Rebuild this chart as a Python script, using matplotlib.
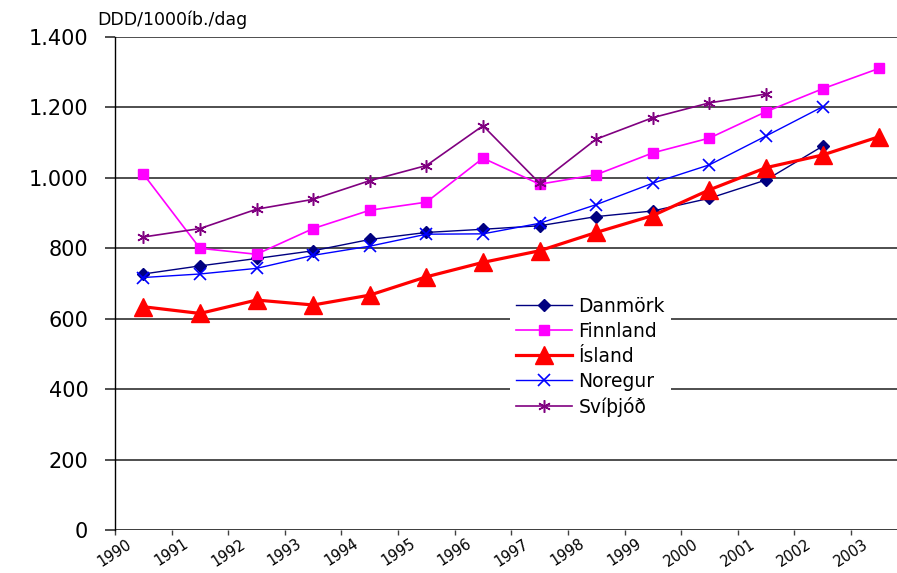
import matplotlib
matplotlib.use("Agg")
import matplotlib.pyplot as plt
from matplotlib.transforms import ScaledTranslation

plt.rcParams['font.family'] = ['DejaVu Sans']

years = ['1990', '1991', '1992', '1993', '1994', '1995', '1996',
         '1997', '1998', '1999', '2000', '2001', '2002', '2003']
danmork = [727, 750, 771, 793, 825, 845, 854, 864, 890, 906, 942, 994, 1090, None]
finnland = [1011, 800, 783, 856, 908, 931, 1056, 982, 1009, 1071, 1113, 1188, 1253, 1311]
island = [634, 615, 653, 639, 667, 719, 760, 793, 845, 893, 966, 1029, 1065, 1117]
noregur = [717, 727, 743, 780, 806, 840, 841, 871, 924, 985, 1037, 1119, 1202, None]
svithjod = [832, 856, 911, 939, 992, 1035, 1148, 985, 1110, 1171, 1213, 1238, None, None]
y_ticks = [0, 200, 400, 600, 800, 1000, 1200, 1400]
y_labels = ['0', '200', '400', '600', '800', '1.000', '1.200', '1.400']
y_unit = 'DDD/1000íb./dag'

W, H = 897, 573
fig = plt.figure(figsize=(W / 100, H / 100), dpi=100)
ax = fig.add_axes([115 / W, 43 / H, 792.6 / W, 493 / H])

def pts(vals):
    xs, ys = [], []
    for i, v in enumerate(vals):
        if v is not None:
            xs.append(i + 0.5)
            ys.append(v)
    return xs, ys

series = [
    ('Danmörk', danmork, dict(color='#000080', lw=1.0, marker='D', ms=6)),
    ('Finnland', finnland, dict(color='#FF00FF', lw=1.2, marker='s', ms=7)),
    ('Ísland', island, dict(color='#FF0000', lw=2.3, marker='^', ms=13)),
    ('Noregur', noregur, dict(color='#0000FF', lw=1.0, marker='x', ms=8, mew=1.2)),
    ('Svíþjóð', svithjod, dict(color='#800080', lw=1.2, marker=(6, 2, 0), ms=9, mew=1.1)),
]
for name, vals, st in series:
    xs, ys = pts(vals)
    ax.plot(xs, ys, label=name, clip_on=False, zorder=3, **st)

ax.set_xlim(0, len(years))
ax.set_ylim(0, 1400)
ax.set_yticks(y_ticks)
ax.set_yticklabels(y_labels, fontsize=15)
ax.set_xticks(range(len(years)))
ax.set_xticklabels(years, fontsize=10.5, rotation=33, ha='center', va='top')
for lab in ax.get_xticklabels():
    lab.set_transform(lab.get_transform() + ScaledTranslation(-8 / 100, 0, fig.dpi_scale_trans))

ax.grid(axis='y', color='#404040', lw=1.3, zorder=1)
for s in ['top', 'right', 'bottom']:
    ax.spines[s].set_visible(False)
ax.spines['left'].set_color('black')
ax.spines['left'].set_linewidth(1.0)
ax.tick_params(axis='y', length=7.2, width=1.3, color='#404040', pad=12)
ax.tick_params(axis='x', length=3.5, width=1.0, color='#404040', pad=1)
ax.axhline(0, color='#404040', lw=1.3, zorder=1, xmin=-0.02)

fig.text(97 / W, 1 - 20 / H, y_unit, fontsize=12.5, ha='left', va='center')

leg = ax.legend(loc='center left', bbox_to_anchor=(510 / W, 1 - 357 / H),
                bbox_transform=fig.transFigure, fontsize=13.5, frameon=True,
                fancybox=False, edgecolor='none', facecolor='white', framealpha=1,
                handlelength=3.0, handletextpad=0.35, labelspacing=0.32,
                borderpad=0.3, borderaxespad=0)
leg.set_zorder(5)

fig.savefig('out.png', dpi=100)
